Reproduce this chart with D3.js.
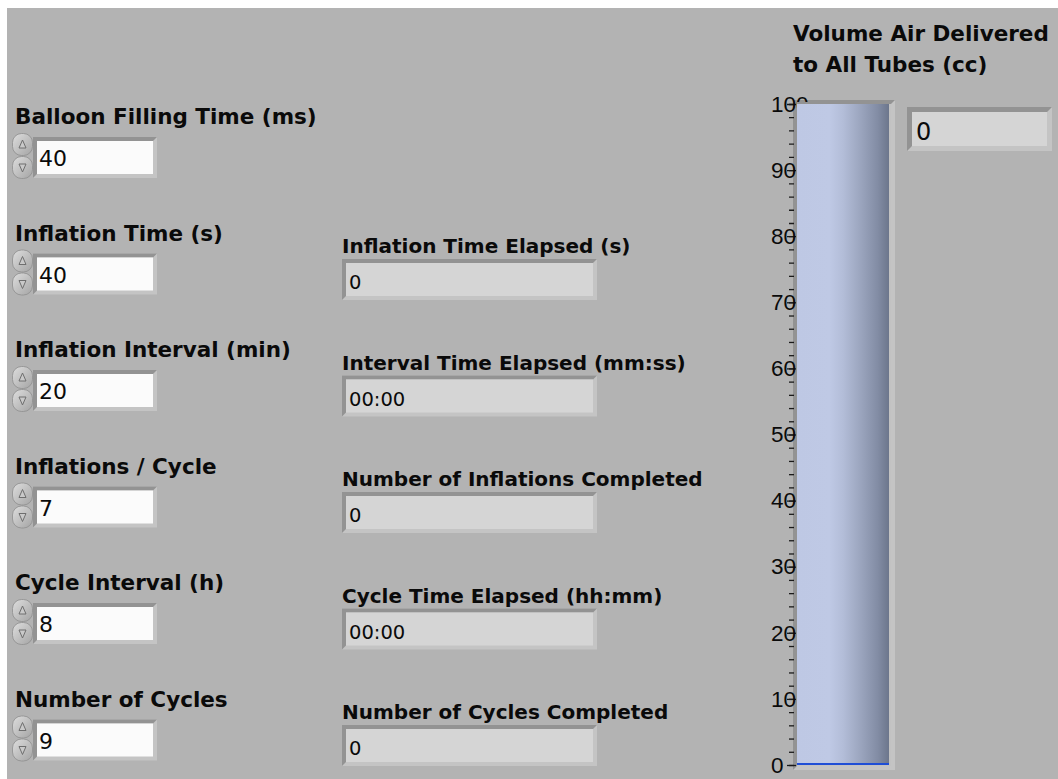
<!DOCTYPE html>
<html>
<head>
<meta charset="UTF-8">
<style>
body { margin: 0; background: white; }
svg { display: block; }
</style>
</head>
<body>
<script src="https://d3js.org/d3.v7.min.js"></script>
<script>

// data
var controlLabels = ["Balloon Filling Time (ms)", "Inflation Time (s)", "Inflation Interval (min)",
                     "Inflations / Cycle", "Cycle Interval (h)", "Number of Cycles"]
var controlValues = [40, 40, 20, 7, 8, 9]
var indicatorLabels = ["Inflation Time Elapsed (s)", "Interval Time Elapsed (mm:ss)",
                       "Number of Inflations Completed", "Cycle Time Elapsed (hh:mm)",
                       "Number of Cycles Completed"]
var indicatorValues = ["0", "00:00", "0", "00:00", "0"]
var tankTitle = ["Volume Air Delivered", "to All Tubes (cc)"]
var tankValue = 0
var tankDomain = [0, 100]
var tankMajorTicks = [0, 10, 20, 30, 40, 50, 60, 70, 80, 90, 100]
var tankMinorTicks = d3.range(0, 101, 2)

// canvas
var svgWidth = 1058
    svgHeight = 779
    boldFont = "'DejaVu Sans', Verdana, sans-serif"
    scaleFont = "'Liberation Sans', Arial, sans-serif"

var svg = d3.select("body").append("svg")
    .attr("width", svgWidth)
    .attr("height", svgHeight)

svg.append("rect")
    .attr("x", 7).attr("y", 8)
    .attr("width", svgWidth - 7).attr("height", svgHeight - 8)
    .attr("fill", "#b3b3b3")

var defs = svg.append("defs")
var tankGrad = defs.append("linearGradient").attr("id", "tankGrad")
    .attr("x1", "0%").attr("x2", "100%").attr("y1", "0%").attr("y2", "0%")
tankGrad.selectAll("stop")
    .data([[0, "#bec8e4"], [0.35, "#bfc9e5"], [0.5, "#b3bdd8"], [0.7, "#9aa4bd"], [0.88, "#828ca4"], [1, "#6c768c"]])
    .join("stop")
    .attr("offset", d => d[0])
    .attr("stop-color", d => d[1])

var btnGrad = defs.append("linearGradient").attr("id", "btnGrad")
    .attr("x1", "0%").attr("x2", "100%").attr("y1", "0%").attr("y2", "100%")
btnGrad.append("stop").attr("offset", 0).attr("stop-color", "#dedede")
btnGrad.append("stop").attr("offset", 1).attr("stop-color", "#a4a4a4")

// recessed LabVIEW style frame
function bevelBox(g, x, y, w, h, b, inner) {
    g.append("rect").attr("x", x).attr("y", y).attr("width", w).attr("height", h)
        .attr("fill", "#c4c4c4")
    g.append("polygon")
        .attr("points", [[x, y], [x + w, y], [x + w - b, y + b], [x + b, y + b], [x + b, y + h - b], [x, y + h]].join(" "))
        .attr("fill", "#939393")
    g.append("rect").attr("x", x + b).attr("y", y + b).attr("width", w - 2 * b).attr("height", h - 2 * b)
        .attr("fill", inner)
}

// row positions
var rowY = d3.scaleLinear().domain([0, 5]).range([124, 124 + 5 * 116.5])

// left column: numeric controls
var controls = svg.selectAll(".control")
    .data(controlLabels.map((l, i) => ({label: l, value: controlValues[i], i: i})))
    .join("g")
    .attr("class", "control")
    .attr("transform", d => "translate(0," + rowY(d.i) + ")")

controls.append("text")
    .attr("x", 15).attr("y", 0)
    .attr("font-family", boldFont).attr("font-weight", "bold").attr("font-size", 21.5)
    .attr("fill", "#0a0a0a")
    .text(d => d.label)

controls.each(function(d) {
    var g = d3.select(this)
    bevelBox(g, 33, 13, 124, 41, 4, "#fbfbfb")
    // increment / decrement buttons
    g.append("rect").attr("x", 12.5).attr("y", 9.5).attr("width", 20).attr("height", 22).attr("rx", 9)
        .attr("fill", "url(#btnGrad)").attr("stroke", "#8e8e8e").attr("stroke-width", 0.8)
    g.append("rect").attr("x", 12.5).attr("y", 32.5).attr("width", 20).attr("height", 22).attr("rx", 9)
        .attr("fill", "url(#btnGrad)").attr("stroke", "#8e8e8e").attr("stroke-width", 0.8)
    g.append("path").attr("d", "M19,24 L22.5,16 L26,24 Z")
        .attr("fill", "#c9c9c9").attr("stroke", "#6e6e6e").attr("stroke-width", 1)
    g.append("path").attr("d", "M19,40 L22.5,48 L26,40 Z")
        .attr("fill", "#c9c9c9").attr("stroke", "#6e6e6e").attr("stroke-width", 1)
})

controls.append("text")
    .attr("x", 39).attr("y", 42)
    .attr("font-family", boldFont).attr("font-size", 22)
    .attr("fill", "#0a0a0a")
    .text(d => d.value)

// middle column: indicators
var indicators = svg.selectAll(".indicator")
    .data(indicatorLabels.map((l, i) => ({label: l, value: indicatorValues[i], i: i + 1})))
    .join("g")
    .attr("class", "indicator")
    .attr("transform", d => "translate(0," + (rowY(d.i) + 12.5) + ")")

indicators.append("text")
    .attr("x", 342).attr("y", 0)
    .attr("font-family", boldFont).attr("font-weight", "bold").attr("font-size", 20)
    .attr("fill", "#0a0a0a")
    .text(d => d.label)

indicators.each(function(d) {
    bevelBox(d3.select(this), 342, 6, 255, 41, 4, "#d5d5d5")
})

indicators.append("text")
    .attr("x", 349).attr("y", 36)
    .attr("font-family", boldFont).attr("font-size", 19.5)
    .attr("fill", "#0a0a0a")
    .text(d => d.value)

// right: tank
svg.selectAll(".tankTitle")
    .data(tankTitle)
    .join("text")
    .attr("class", "tankTitle")
    .attr("x", 793).attr("y", (d, i) => 41 + i * 31)
    .attr("font-family", boldFont).attr("font-weight", "bold").attr("font-size", 21.5)
    .attr("fill", "#0a0a0a")
    .text(d => d)

var yScale = d3.scaleLinear().domain(tankDomain).range([765, 104])

var tank = svg.append("g")
bevelBox(tank, 793, yScale(100) - 4, 102, yScale(0) - yScale(100) + 9, 4, "#c2c2c2")
tank.append("rect")
    .attr("x", 797).attr("y", yScale(100))
    .attr("width", 92).attr("height", yScale(0) - yScale(100))
    .attr("fill", "url(#tankGrad)")
tank.append("rect")
    .attr("x", 797).attr("y", Math.min(yScale(tankValue), yScale(0) - 2))
    .attr("width", 92).attr("height", Math.max(2, yScale(0) - yScale(tankValue)))
    .attr("fill", "#1f4ed6")

// scale is clipped where it runs into the tank body (hides the last digit of "100")
defs.append("clipPath").attr("id", "scaleClip")
    .append("path")
    .attr("clip-rule", "evenodd")
    .attr("d", "M0,0H" + svgWidth + "V" + svgHeight + "H0Z" +
               "M797," + (yScale(100) - 2) + "H" + svgWidth + "V" + svgHeight + "H797Z")

var scaleG = svg.append("g").attr("clip-path", "url(#scaleClip)")

var minorAxis = d3.axisLeft(yScale).tickValues(tankMinorTicks).tickSize(5).tickFormat("")
scaleG.append("g")
    .attr("transform", "translate(794,0)")
    .call(minorAxis)
    .call(g => g.select(".domain").remove())
    .call(g => g.selectAll("line").attr("stroke", "#1a1a1a").attr("stroke-width", 1.3))

var majorAxis = d3.axisLeft(yScale).tickValues(tankMajorTicks).tickSize(9)
scaleG.append("g")
    .attr("transform", "translate(796,0)")
    .call(majorAxis)
    .call(g => g.select(".domain").remove())
    .call(g => g.selectAll("line").attr("stroke", "#1a1a1a").attr("stroke-width", 1.3))
    .call(g => g.selectAll("text")
        .attr("x", -25).attr("text-anchor", "start")
        .attr("font-family", scaleFont).attr("font-size", 22.5)
        .attr("fill", "#0a0a0a"))

// numeric indicator beside the tank
var numInd = svg.append("g")
bevelBox(numInd, 907, 107, 145, 44, 5, "#d5d5d5")
numInd.append("text")
    .attr("x", 916).attr("y", 140)
    .attr("font-family", boldFont).attr("font-size", 24)
    .attr("fill", "#0a0a0a")
    .text(tankValue)

</script>
</body>
</html>
